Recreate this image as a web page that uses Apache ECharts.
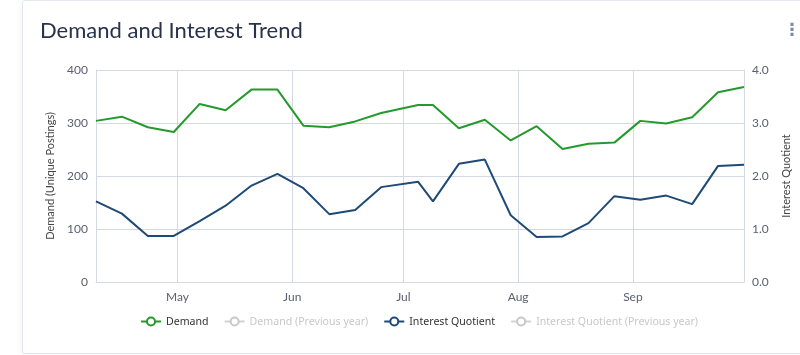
<!DOCTYPE html>
<html>
<head>
<meta charset="utf-8">
<script src="https://cdn.jsdelivr.net/npm/echarts@6/dist/echarts.min.js"></script>
<style>
  html, body { margin: 0; padding: 0; background: #ffffff; width: 800px; height: 355px; overflow: hidden; }
  #card { position: absolute; left: 22px; top: 0px; width: 800px; height: 352px; border: 1px solid #e3e6ed; border-radius: 3px; background: #fff; box-shadow: 0 0 6px rgba(40,50,80,0.06); }
  #chart { position: absolute; left: 0; top: 0; width: 800px; height: 355px; }
  #menu { position: absolute; left: 783px; top: 19px; width: 18px; text-align: center; font: bold 17px "DejaVu Sans", sans-serif; color: #7d8aa3; line-height: 20px; }
</style>
</head>
<body>
<div id="card"></div>
<div id="chart"></div>
<div id="menu">⋮</div>
<script>
// ---- data ----
const titleText = 'Demand and Interest Trend';
const dates = ['2023-04-09','2023-04-16','2023-04-23','2023-04-30','2023-05-07','2023-05-14','2023-05-21','2023-05-28',
  '2023-06-04','2023-06-11','2023-06-18','2023-06-25','2023-07-05','2023-07-09','2023-07-16','2023-07-23','2023-07-30',
  '2023-08-06','2023-08-13','2023-08-20','2023-08-27','2023-09-03','2023-09-10','2023-09-17','2023-09-24','2023-10-01'];
const demand = [304, 312, 292, 283, 336, 324, 363, 363, 295, 292, 303, 319, 334, 334, 290, 306, 267,
  294, 251, 261, 263, 304, 299, 311, 358, 368];
const interestQuotient = [1.52, 1.29, 0.87, 0.87, 1.15, 1.44, 1.82, 2.04, 1.77, 1.28, 1.36, 1.79, 1.89, 1.52, 2.23, 2.31, 1.26,
  0.85, 0.86, 1.11, 1.62, 1.55, 1.63, 1.47, 2.19, 2.21];
const demandPrev = [];
const interestPrev = [];
const monthTicks = ['2023-05-01','2023-06-01','2023-07-01','2023-08-01','2023-09-01'];
const monthNames = ['Jan','Feb','Mar','Apr','May','Jun','Jul','Aug','Sep','Oct','Nov','Dec'];
const seriesNames = ['Demand', 'Demand (Previous year)', 'Interest Quotient', 'Interest Quotient (Previous year)'];
const leftAxisName = 'Demand (Unique Postings)';
const rightAxisName = 'Interest Quotient';

const ts = (s) => { const p = s.split('-'); return new Date(+p[0], +p[1]-1, +p[2]).getTime(); };
const pair = (vals) => dates.map((d, i) => [ts(d), vals[i]]);
const tickVals = monthTicks.map(ts);

const gridColor = '#d5d9e3';
const labelColor = '#5b6070';
const chart = echarts.init(document.getElementById('chart'), null, { renderer: 'canvas' });
chart.setOption({
  animation: false,
  title: {
    text: titleText, left: 35, top: 15,
    textStyle: { fontFamily: 'Lato', fontSize: 22, fontWeight: 'normal', color: '#28324a' }
  },
  legend: {
    bottom: 23, left: 135,
    itemWidth: 20, itemHeight: 10, itemGap: 15,
    textStyle: { fontFamily: 'Noto Sans', fontSize: 10.6, color: '#333' },
    inactiveColor: '#c8c8c8',
    data: seriesNames,
    selected: { 'Demand (Previous year)': false, 'Interest Quotient (Previous year)': false }
  },
  grid: { left: 96, right: 56, top: 70, bottom: 73 },
  xAxis: {
    type: 'value',
    min: ts(dates[0]), max: ts(dates[dates.length - 1]),
    axisLine: { show: true, lineStyle: { color: gridColor } },
    axisTick: { show: false, customValues: tickVals },
    axisLabel: {
      customValues: tickVals,
      formatter: (v) => monthNames[new Date(v).getMonth()],
      fontFamily: 'Lato', fontSize: 12, color: labelColor, margin: 9
    },
    splitLine: { show: true, lineStyle: { color: gridColor, width: 1 } }
  },
  yAxis: [{
    type: 'value', min: 0, max: 400, interval: 100,
    name: leftAxisName, nameLocation: 'middle', nameGap: 33,
    nameTextStyle: { fontFamily: 'Lato', fontSize: 11, color: '#444' },
    axisLine: { show: true, lineStyle: { color: gridColor } },
    axisTick: { show: false },
    axisLabel: { fontFamily: 'Lato', fontSize: 12, color: labelColor, margin: 8 },
    splitLine: { show: true, lineStyle: { color: gridColor } }
  }, {
    type: 'value', min: 0, max: 4, interval: 1,
    name: rightAxisName, nameLocation: 'middle', nameGap: 37,
    nameTextStyle: { fontFamily: 'Lato', fontSize: 11, color: '#444' },
    axisLine: { show: true, lineStyle: { color: gridColor } },
    axisTick: { show: false },
    axisLabel: { fontFamily: 'Lato', fontSize: 12, color: labelColor, margin: 8, formatter: (v) => v.toFixed(1) },
    splitLine: { show: false }
  }],
  series: [{
    name: seriesNames[0], type: 'line', yAxisIndex: 0, data: pair(demand),
    symbol: 'emptyCircle', showSymbol: false, color: '#249a2c',
    lineStyle: { width: 2, color: '#249a2c' }
  }, {
    name: seriesNames[1], type: 'line', yAxisIndex: 0, data: demandPrev,
    symbol: 'emptyCircle', showSymbol: false, color: '#9bd19f',
    lineStyle: { width: 2, type: 'dashed' }
  }, {
    name: seriesNames[2], type: 'line', yAxisIndex: 1, data: pair(interestQuotient),
    symbol: 'emptyCircle', showSymbol: false, color: '#1f4a76',
    lineStyle: { width: 2, color: '#1f4a76' }
  }, {
    name: seriesNames[3], type: 'line', yAxisIndex: 1, data: interestPrev,
    symbol: 'emptyCircle', showSymbol: false, color: '#8aa1bb',
    lineStyle: { width: 2, type: 'dashed' }
  }]
});
</script>
</body>
</html>
